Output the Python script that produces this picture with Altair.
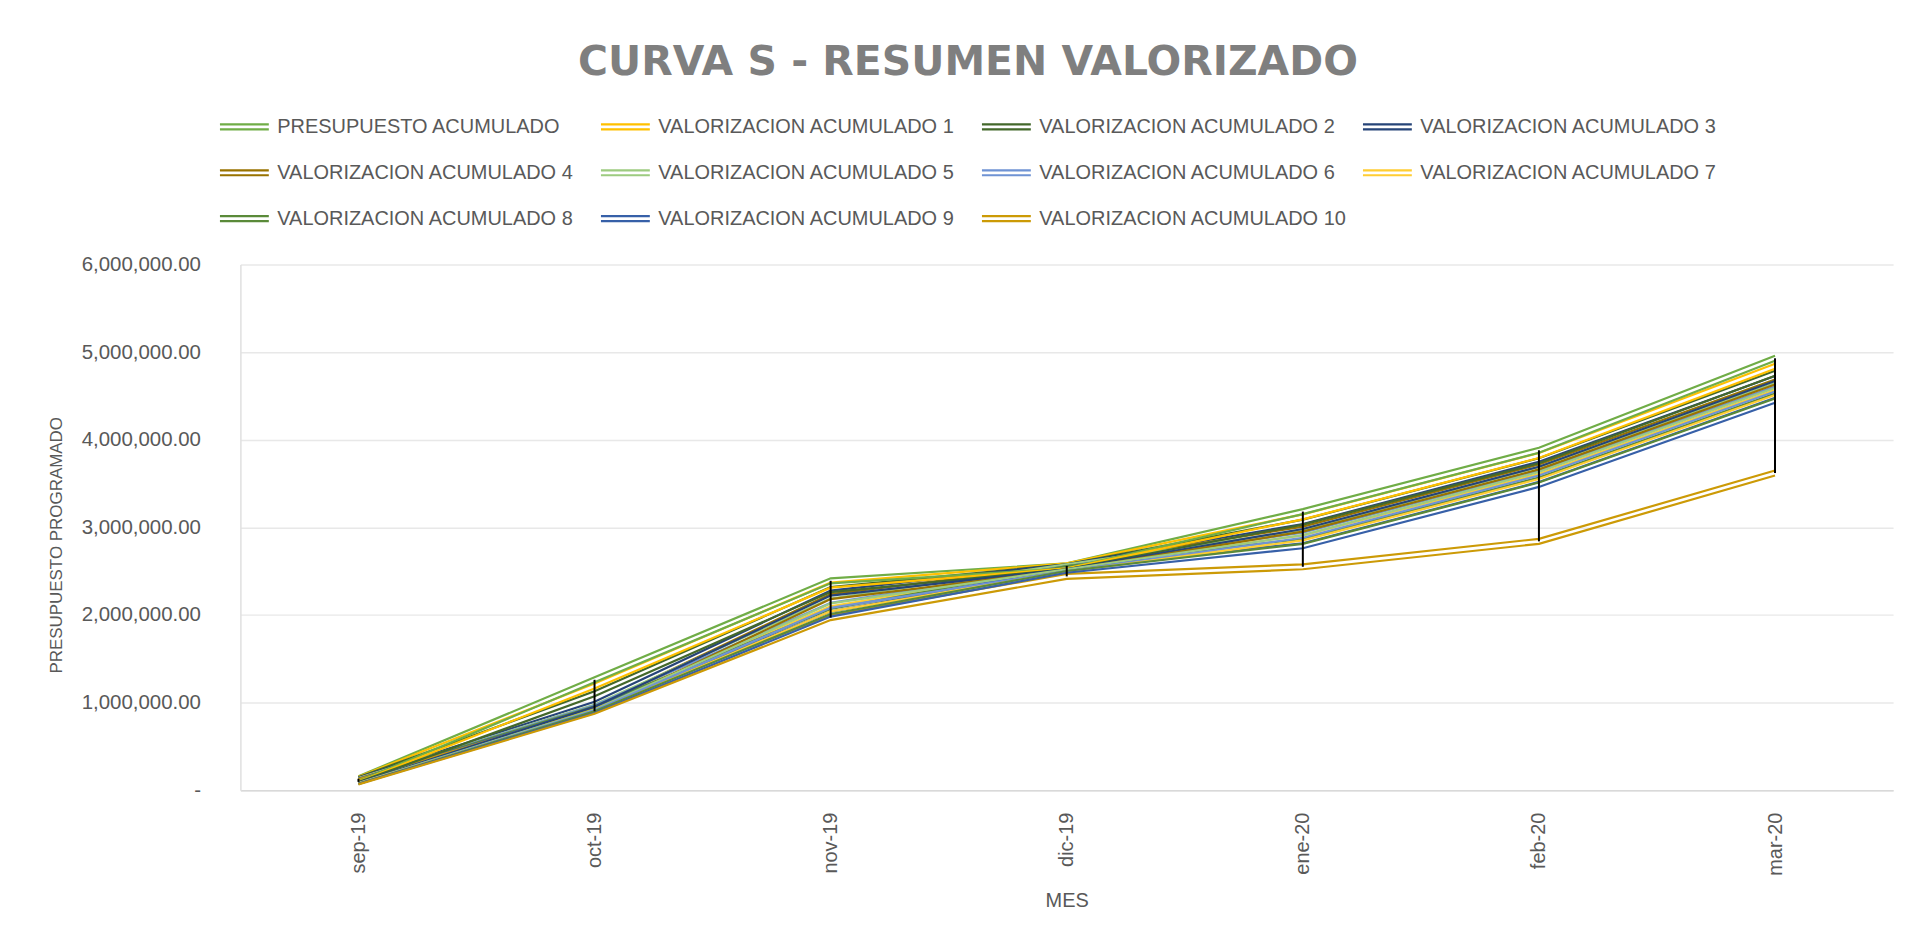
import altair as alt
import pandas as pd

meses = ["sep-19", "oct-19", "nov-19", "dic-19", "ene-20", "feb-20", "mar-20"]

series = [
    "PRESUPUESTO ACUMULADO",
    "VALORIZACION ACUMULADO 1",
    "VALORIZACION ACUMULADO 2",
    "VALORIZACION ACUMULADO 3",
    "VALORIZACION ACUMULADO 4",
    "VALORIZACION ACUMULADO 5",
    "VALORIZACION ACUMULADO 6",
    "VALORIZACION ACUMULADO 7",
    "VALORIZACION ACUMULADO 8",
    "VALORIZACION ACUMULADO 9",
    "VALORIZACION ACUMULADO 10",
]

colores = [
    "#70AD47", "#FFC000", "#43682B", "#264478", "#997300", "#9DCB80",
    "#6F93D4", "#FFCD33", "#5A8A39", "#3760A8", "#CC9A06",
]

presupuesto = [130000, 1260000, 2390000, 2560000, 3180000, 3880000, 4930000]
val_1 = [125000, 1190000, 2340000, 2560000, 3120000, 3820000, 4840000]
val_2 = [120000, 1100000, 2290000, 2550000, 3060000, 3760000, 4760000]
val_3 = [115000, 980000, 2250000, 2550000, 3010000, 3720000, 4700000]
val_4 = [110000, 930000, 2210000, 2540000, 2980000, 3690000, 4660000]
val_5 = [110000, 950000, 2160000, 2550000, 2940000, 3660000, 4620000]
val_6 = [105000, 940000, 2110000, 2530000, 2910000, 3620000, 4580000]
val_7 = [105000, 920000, 2070000, 2520000, 2880000, 3580000, 4540000]
val_8 = [100000, 930000, 2040000, 2530000, 2840000, 3540000, 4500000]
val_9 = [100000, 910000, 2010000, 2510000, 2790000, 3490000, 4450000]
val_10 = [95000, 900000, 1970000, 2440000, 2550000, 2840000, 3620000]

valores = [presupuesto, val_1, val_2, val_3, val_4, val_5, val_6, val_7, val_8, val_9, val_10]

rows = []
for s, vals in zip(series, valores):
    for i, (m, v) in enumerate(zip(meses, vals)):
        rows.append({"serie": s, "mes": m, "idx": i, "valor": v})
df = pd.DataFrame(rows)

FONT = "Liberation Sans"
GRAY = "#595959"

x_enc = alt.X(
    "mes:N",
    sort=meses,
    scale=alt.Scale(type="point", padding=0.5),
    axis=alt.Axis(
        title="MES",
        labelAngle=270,
        labelFont=FONT,
        labelFontSize=20,
        labelColor=GRAY,
        labelPadding=22,
        ticks=False,
        grid=False,
        domainColor="#D9D9D9",
        domainWidth=1.5,
        titleFont=FONT,
        titleFontSize=20,
        titleFontWeight="normal",
        titleColor=GRAY,
        titleY=111,
        titleBaseline="middle",
    ),
)

y_enc = alt.Y(
    "valor:Q",
    scale=alt.Scale(domain=[0, 6000000]),
    axis=alt.Axis(
        title="PRESUPUESTO PROGRAMADO",
        values=[0, 1000000, 2000000, 3000000, 4000000, 5000000, 6000000],
        labelExpr="datum.value == 0 ? '-' : format(datum.value, ',.2f')",
        labelFont=FONT,
        labelFontSize=20.5,
        labelColor=GRAY,
        labelPadding=40,
        ticks=False,
        grid=True,
        gridColor="#E8E8E8",
        gridWidth=1.5,
        domainColor="#E0E0E0",
        domainWidth=1.5,
        titleFont=FONT,
        titleFontSize=17,
        titleFontWeight="normal",
        titleColor=GRAY,
        titleAngle=270,
        titleX=-184,
        titleY=281,
        titleBaseline="middle",
    ),
)

color_enc = alt.Color(
    "serie:N",
    sort=series,
    scale=alt.Scale(domain=series, range=colores),
    legend=alt.Legend(
        title=None,
        orient="none",
        direction="horizontal",
        legendX=-22,
        legendY=-164,
        columns=4,
        gridAlign="all",
        symbolType="M-1,-0.1H1M-1,0.1H1",
        symbolSize=2401,
        symbolStrokeWidth=2.2,
        labelFont=FONT,
        labelFontSize=20,
        labelColor=GRAY,
        labelLimit=400,
        labelOffset=7,
        rowPadding=10,
        columnPadding=11,
        symbolLimit=0,
    ),
)

base = alt.Chart(df).encode(
    x=x_enc,
    y=y_enc,
    color=color_enc,
    order=alt.Order("idx:Q"),
)

upper = base.mark_line(strokeWidth=2.2, yOffset=-2.5)
lower = base.mark_line(strokeWidth=2.2, yOffset=2.5)

hilo = alt.Chart(df).mark_rule(color="black", strokeWidth=2).encode(
    x=alt.X("mes:N", sort=meses, scale=alt.Scale(type="point", padding=0.5)),
    y=alt.Y("min(valor):Q"),
    y2=alt.Y2("max(valor):Q"),
)

chart = (
    alt.layer(upper, lower, hilo)
    .properties(
        width=1657,
        height=527,
        autosize=alt.AutoSizeParams(type="none"),
        padding={"left": 233, "top": 256, "right": 28, "bottom": 145},
        background="white",
        title=alt.TitleParams(
            text="CURVA S - RESUMEN VALORIZADO",
            font="DejaVu Sans",
            fontSize=41,
            fontWeight="bold",
            color="#7F7F7F",
            anchor="middle",
            dx=-99,
            offset=17,
        ),
    )
    .configure_view(strokeWidth=0)
)

chart.save("out.html", embed_options={"renderer": "svg", "actions": False})
